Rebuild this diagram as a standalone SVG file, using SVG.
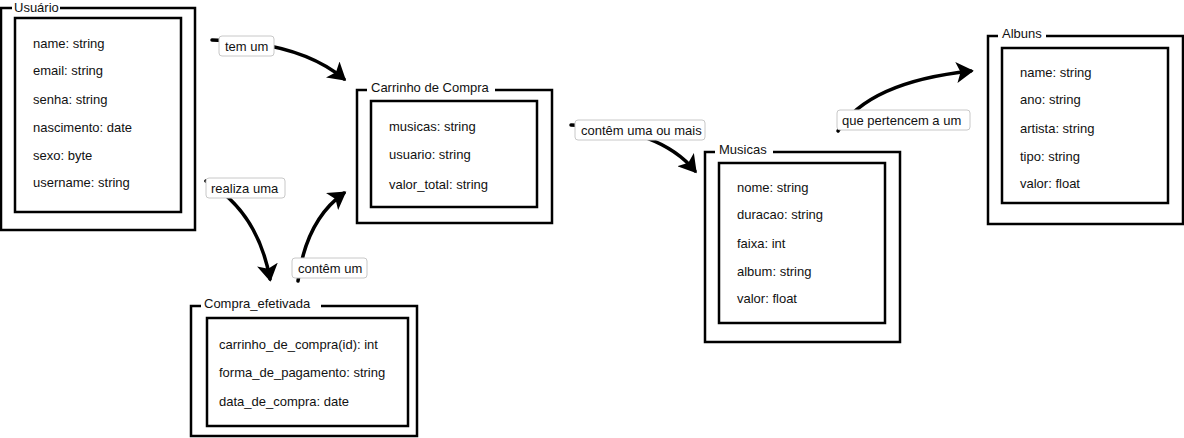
<svg xmlns="http://www.w3.org/2000/svg" width="1184" height="438" viewBox="0 0 1184 438">
<style>
text{font-family:"Liberation Sans",Arial,sans-serif;font-size:13px;fill:#111}
.outer{fill:none;stroke:#000;stroke-width:2.5}
.inner{fill:#fff;stroke:#000;stroke-width:2.5}
.ttl{fill:#fff;stroke:none}
.lbl{fill:#fff;stroke:#c8c8c8;stroke-width:1}
.conn{fill:none;stroke:#000;stroke-width:3.5;stroke-linecap:round}
</style>
<defs>
<marker id="ah" markerWidth="6" markerHeight="6" refX="4.2" refY="3" orient="auto" markerUnits="strokeWidth">
<path d="M0,0 L5,3 L0,6 L1.2,3 Z" fill="#000"/>
</marker>
</defs>
<rect width="1184" height="438" fill="#fff"/>
<g id="connectors">
<path class="conn" d="M212,40 Q300,42 344,79" marker-end="url(#ah)"/>
<path class="conn" d="M206,181 Q258,212 270,279" marker-end="url(#ah)"/>
<path class="conn" d="M298,281 Q306,220 344,193" marker-end="url(#ah)"/>
<path class="conn" d="M571,125 Q660,128 695,171" marker-end="url(#ah)"/>
<path class="conn" d="M838,131 Q868,82 971,71" marker-end="url(#ah)"/>
</g>
<g id="usuario">
<rect class="outer" x="1" y="8" width="194" height="222"/>
<rect class="ttl" x="12" y="0" width="48" height="14"/>
<text x="14" y="12">Usuário</text>
<rect class="inner" x="15" y="18" width="166" height="194"/>
<text x="33" y="48">name: string</text>
<text x="33" y="75">email: string</text>
<text x="33" y="104">senha: string</text>
<text x="33" y="132">nascimento: date</text>
<text x="33" y="160">sexo: byte</text>
<text x="33" y="187">username: string</text>
</g>
<g id="carrinho">
<rect class="outer" x="357" y="90" width="195" height="133"/>
<rect class="ttl" x="367" y="82" width="128" height="14"/>
<text x="371" y="92">Carrinho de Compra</text>
<rect class="inner" x="371" y="101" width="166" height="106"/>
<text x="389" y="131">musicas: string</text>
<text x="389" y="159">usuario: string</text>
<text x="389" y="189">valor_total: string</text>
</g>
<g id="compra_efetivada">
<rect class="outer" x="191" y="306" width="226" height="130"/>
<rect class="ttl" x="201" y="298" width="120" height="14"/>
<text x="204" y="308">Compra_efetivada</text>
<rect class="inner" x="207" y="318" width="201" height="108"/>
<text x="219" y="349">carrinho_de_compra(id): int</text>
<text x="219" y="377">forma_de_pagamento: string</text>
<text x="219" y="406">data_de_compra: date</text>
</g>
<g id="musicas">
<rect class="outer" x="705" y="152" width="195" height="190"/>
<rect class="ttl" x="715" y="144" width="58" height="14"/>
<text x="719" y="154">Musicas</text>
<rect class="inner" x="719" y="163" width="166" height="160"/>
<text x="737" y="192">nome: string</text>
<text x="737" y="219">duracao: string</text>
<text x="737" y="248">faixa: int</text>
<text x="737" y="276">album: string</text>
<text x="737" y="303">valor: float</text>
</g>
<g id="albuns">
<rect class="outer" x="988" y="36" width="195" height="188"/>
<rect class="ttl" x="998" y="28" width="48" height="14"/>
<text x="1002" y="38">Albuns</text>
<rect class="inner" x="1002" y="48" width="166" height="155"/>
<text x="1020" y="77">name: string</text>
<text x="1020" y="104">ano: string</text>
<text x="1020" y="133">artista: string</text>
<text x="1020" y="161">tipo: string</text>
<text x="1020" y="188">valor: float</text>
</g>
<g id="edge-labels">
<rect class="lbl" x="219" y="36" width="55" height="20" rx="3"/>
<text x="225" y="51">tem um</text>
<rect class="lbl" x="206" y="178" width="79" height="20" rx="3"/>
<text x="211" y="193">realiza uma</text>
<rect class="lbl" x="292" y="258" width="75" height="20" rx="3"/>
<text x="298" y="273">contêm um</text>
<rect class="lbl" x="575" y="120" width="130" height="20" rx="3"/>
<text x="581" y="135">contêm uma ou mais</text>
<rect class="lbl" x="837" y="110" width="133" height="20" rx="3"/>
<text x="842" y="125">que pertencem a um</text>
</g>
</svg>
